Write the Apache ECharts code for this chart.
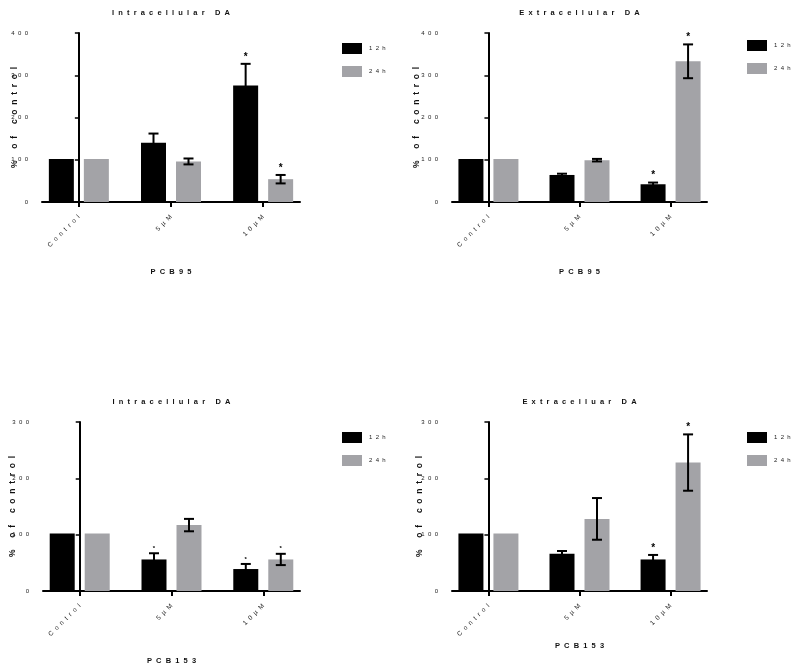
<!DOCTYPE html>
<html>
<head>
<meta charset="utf-8">
<script src="https://cdn.jsdelivr.net/npm/echarts@6/dist/echarts.min.js"></script>
<style>
  html, body { margin: 0; padding: 0; background: #fff; }
  #main { width: 800px; height: 668px; }
</style>
</head>
<body>
<div id="main"></div>
<script>
// categories / names
var categories = ['Control', '5µM', '10µM'];
var timeNames = ['12h', '24h'];
var titles = ['Intracellular DA', 'Extracellular DA', 'Intracellular DA', 'Extracelluar DA'];
var compounds = ['PCB95', 'PCB95', 'PCB153', 'PCB153'];
var yMax = [400, 400, 300, 300];
var yTicks = [100, 100, 100, 100];

// values (% of control)
var p1_12h = [102, 140, 276], p1_12hErr = [0, 22, 51];
var p1_24h = [102, 96, 54],   p1_24hErr = [0, 7, 10];
var p2_12h = [102, 64, 42],   p2_12hErr = [0, 3, 4];
var p2_24h = [102, 99, 333],  p2_24hErr = [0, 3, 40];
var p3_12h = [102, 56, 39],   p3_12hErr = [0, 11, 9];
var p3_24h = [102, 117, 56],  p3_24hErr = [0, 11, 10];
var p4_12h = [102, 66, 56],   p4_12hErr = [0, 5, 8];
var p4_24h = [102, 128, 228], p4_24hErr = [0, 37, 50];

// significance marks
var p1_star = [[0, 0, 1], [0, 0, 1]];
var p2_star = [[0, 0, 1], [0, 0, 1]];
var p3_star = [[0, 1, 1], [0, 0, 1]];
var p4_star = [[0, 0, 1], [0, 0, 1]];

var panels = [
    { mean: [p1_12h, p1_24h], err: [p1_12hErr, p1_24hErr], star: p1_star },
    { mean: [p2_12h, p2_24h], err: [p2_12hErr, p2_24hErr], star: p2_star },
    { mean: [p3_12h, p3_24h], err: [p3_12hErr, p3_24hErr], star: p3_star },
    { mean: [p4_12h, p4_24h], err: [p4_12hErr, p4_24hErr], star: p4_star }
];

// layout of the four plots
var grids = [
    { left: 42, top: 33, width: 258, height: 169 },
    { left: 452, top: 33, width: 255, height: 169 },
    { left: 43, top: 422, width: 257, height: 169 },
    { left: 452, top: 422, width: 255, height: 169 }
];
var xNameGap = [66, 66, 66, 51];
var yNameGap = [23, 31, 26, 28];
var starSize = [10, 10, 6, 10];
var colors = ['#000000', '#a3a3a7'];
var FONT = '"Liberation Sans", Arial, sans-serif';

// the source renders its text letter-spaced
function sp(s) { return String(s).split('').join('  '); }

var chart = echarts.init(document.getElementById('main'), null, { renderer: 'canvas' });

var option = {
    animation: false,
    backgroundColor: '#fff',
    textStyle: { fontFamily: FONT },
    title: [],
    legend: [],
    grid: [],
    xAxis: [],
    yAxis: [],
    series: []
};

grids.forEach(function (g, i) {
    option.grid.push(g);

    option.title.push({
        text: sp(titles[i]),
        left: g.left + g.width / 2 - 5,
        top: g.top - 29,
        textAlign: 'center',
        textStyle: { fontSize: 7.5, fontWeight: 'bold', color: '#111', fontFamily: FONT }
    });

    option.legend.push({
        data: timeNames.map(sp),
        orient: 'vertical',
        left: i % 2 === 0 ? 337 : 742,
        top: i < 2 ? (i === 0 ? 38 : 35) : 427,
        icon: 'rect',
        itemWidth: 20,
        itemHeight: 11,
        itemGap: 12,
        selectedMode: false,
        textStyle: { fontSize: 6, color: '#222', padding: [0, 0, 0, 2], fontFamily: FONT }
    });

    option.xAxis.push({
        type: 'value',
        gridIndex: i,
        min: -0.4,
        max: 2.4,
        name: sp(compounds[i]),
        nameLocation: 'middle',
        nameGap: xNameGap[i],
        nameMoveOverlap: false,
        nameTextStyle: { fontSize: 7.5, fontWeight: 'bold', color: '#111' },
        splitLine: { show: false },
        axisLine: { show: true, lineStyle: { color: '#000', width: 2 } },
        axisTick: { show: true, customValues: [0, 1, 2], length: 5, lineStyle: { color: '#000', width: 2 } },
        axisLabel: {
            customValues: [0, 1, 2],
            rotate: 45,
            margin: 14,
            fontSize: 6.5,
            color: '#222',
            formatter: function (v) { return sp(categories[Math.round(v)]); }
        }
    });

    option.yAxis.push({
        type: 'value',
        gridIndex: i,
        min: 0,
        max: yMax[i],
        interval: yTicks[i],
        name: sp('% of control'),
        nameLocation: 'middle',
        nameGap: yNameGap[i],
        nameMoveOverlap: false,
        nameTextStyle: { fontSize: 8.5, fontWeight: 'bold', color: '#111' },
        splitLine: { show: false },
        axisLine: { show: true, lineStyle: { color: '#000', width: 2 } },
        axisTick: { show: true, length: 4, lineStyle: { color: '#000', width: 1.5 } },
        axisLabel: {
            margin: 14,
            fontSize: 6,
            color: '#222',
            formatter: function (v) { return sp(v); }
        }
    });

    var p = panels[i];
    // bars
    [0, 1].forEach(function (s) {
        option.series.push({
            type: 'bar',
            name: sp(timeNames[s]),
            xAxisIndex: i,
            yAxisIndex: i,
            barWidth: 25,
            barGap: '40%',
            itemStyle: { color: colors[s] },
            data: p.mean[s].map(function (v, k) { return [k, v]; })
        });
    });
    // error bars + stars
    [0, 1].forEach(function (s) {
        var dx = s === 0 ? -17.5 : 17.5;
        option.series.push({
            type: 'custom',
            name: 'err' + i + s,
            xAxisIndex: i,
            yAxisIndex: i,
            z: 5,
            clip: false,
            renderItem: function (params, api) {
                var x = api.value(0), m = api.value(1), e = api.value(2), st = api.value(3);
                var top = api.coord([x, m + e]);
                var bot = api.coord([x, m - e]);
                var cx = top[0] + dx;
                var children = [];
                var ls = { stroke: '#000', lineWidth: 2 };
                if (e > 0) {
                    children.push({ type: 'line', shape: { x1: cx, y1: top[1], x2: cx, y2: bot[1] }, style: ls });
                    children.push({ type: 'line', shape: { x1: cx - 5, y1: top[1], x2: cx + 5, y2: top[1] }, style: ls });
                    children.push({ type: 'line', shape: { x1: cx - 5, y1: bot[1], x2: cx + 5, y2: bot[1] }, style: ls });
                }
                if (st) {
                    children.push({
                        type: 'text',
                        style: {
                            text: '*', x: cx, y: top[1] - 2,
                            align: 'center', verticalAlign: 'bottom',
                            fontSize: starSize[i], fontWeight: 'bold', fill: '#000', fontFamily: FONT
                        }
                    });
                }
                return { type: 'group', children: children };
            },
            data: p.mean[s].map(function (v, k) { return [k, v, p.err[s][k], p.star[s][k]]; })
        });
    });
});

chart.setOption(option);
</script>
</body>
</html>
